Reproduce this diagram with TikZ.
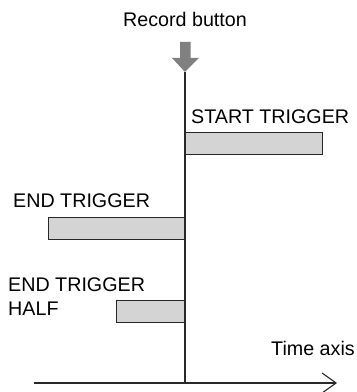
\documentclass[tikz,border=0pt]{standalone}
\usepackage{fontspec}
\setmainfont{Liberation Sans}
\usepackage{tikz}
\usetikzlibrary{arrows.meta,positioning}
\definecolor{barfill}{RGB}{212,212,212}
\definecolor{recgray}{RGB}{128,128,128}
\definecolor{axisline}{RGB}{40,40,40}

\begin{document}
\begin{tikzpicture}[x=1pt,y=1pt,
    lbl/.style={inner sep=0pt,font=\fontsize{19.7}{24}\selectfont},
    trigbar/.style={draw=axisline,fill=barfill,line width=1.1pt,inner sep=0pt,minimum height=22pt,anchor=south east}]
  \useasboundingbox (0,0) rectangle (357,392);
  % record button
  \node[lbl,anchor=base] (rec) at (185,365) {Record button};
  \fill[recgray] (180,350) -- (190.5,350) -- (190.5,334) -- (199,334) -- (185,320) -- (172,334) -- (180,334) -- cycle;
  \coordinate (tip) at (185,320);
  % axes
  \coordinate (origin) at (185,9);
  \coordinate (tstart) at (34,9);
  \coordinate (tend) at (337,9);
  \draw[axisline,line width=1.1pt] (tip) -- (origin);
  \draw[axisline,line width=1.1pt,-{Straight Barb[length=14pt,width=20pt]}] (tstart) -- (tend);
  \node[lbl,anchor=base east] (taxis) at (355,36) {Time axis};
  % triggers
  \node[trigbar,minimum width=137pt,anchor=south west] (startbar) at (185,237) {};
  \node[lbl,anchor=base west] (startlbl) at (191,269) {START TRIGGER};
  \node[trigbar,minimum width=136pt] (endbar) at (185,152) {};
  \node[lbl,anchor=base west] (endlbl) at (13,184) {END TRIGGER};
  \node[trigbar,minimum width=68pt] (halfbar) at (185,69) {};
  \node[lbl,anchor=base west,align=left] (halflbl) at (8,77) {END TRIGGER\\HALF};
\end{tikzpicture}
\end{document}
